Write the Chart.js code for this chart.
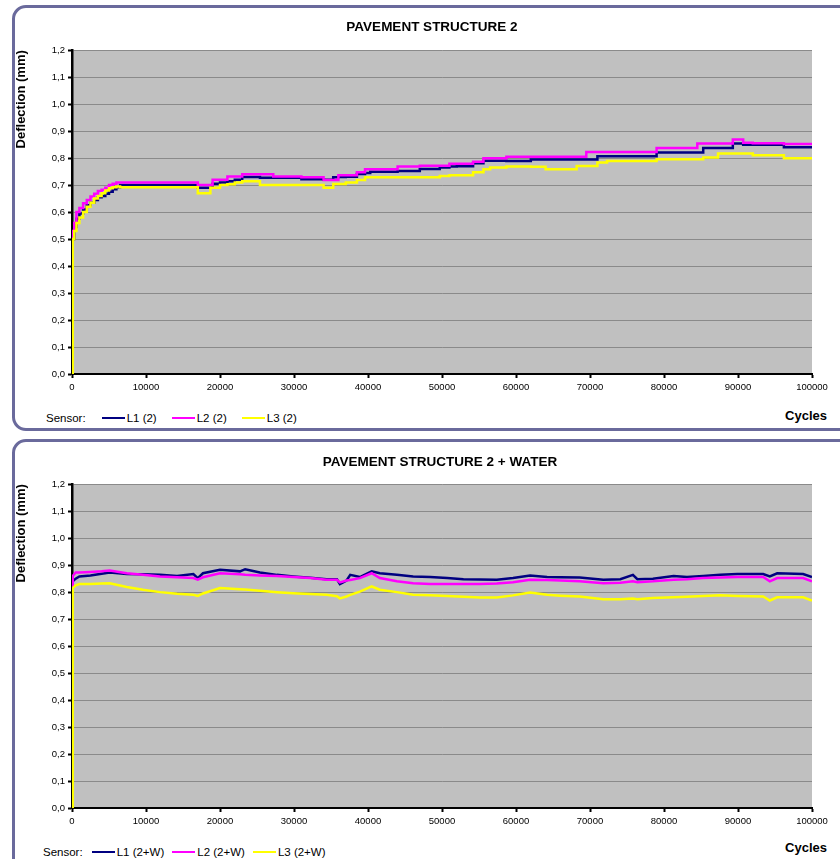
<!DOCTYPE html>
<html lang="en">
<head>
    <meta charset="UTF-8">
    <title>Pavement structure 2 - deflection</title>
    <script src="https://cdn.jsdelivr.net/npm/chart.js"></script>
    <style>
        body {
            margin: 0;
            background: #fff;
            width: 840px;
            height: 859px;
            overflow: hidden;
            position: relative;
            font-family: "Liberation Sans", Arial, sans-serif;
        }
        .box {
            position: absolute;
            left: 12px;
            width: 870px;
            box-sizing: border-box;
            border: 3px solid #6a6a9c;
            border-radius: 14px;
        }
        .chart-wrap {
            position: absolute;
            left: 0;
        }
        .legend {
            position: absolute;
            display: flex;
            align-items: center;
            font-size: 11.5px;
            color: #000;
            white-space: nowrap;
        }
        .legend .swatch {
            display: inline-block;
            width: 23px;
            height: 2px;
            margin-right: 2px;
        }
        .cycles {
            position: absolute;
            right: 13px;
            font-size: 13px;
            font-weight: bold;
            line-height: 16px;
        }
    </style>
</head>
<body>

<div class="box" style="top:5px;height:426px"></div>
<div class="box" style="top:439px;height:440px"></div>

<!-- Pavement structure 2 -->
<div class="chart-wrap" style="top:8px;">
    <canvas id="chartDry" width="864" height="396"></canvas>
</div>
<div class="legend" style="top:412px;left:46px;">
    <span style="margin-right:16px">Sensor:</span>
    <span class="swatch" style="background:#000080"></span><span style="margin-right:15px">L1 (2)</span>
    <span class="swatch" style="background:#ff00ff"></span><span style="margin-right:15px">L2 (2)</span>
    <span class="swatch" style="background:#ffff00"></span><span>L3 (2)</span>
</div>
<div class="cycles" style="top:408px;">Cycles</div>

<!-- Pavement structure 2 + water -->
<div class="chart-wrap" style="top:440px;">
    <canvas id="chartWet" width="880" height="398"></canvas>
</div>
<div class="legend" style="top:846px;left:43px;">
    <span style="margin-right:9px">Sensor:</span>
    <span class="swatch" style="background:#000080"></span><span style="margin-right:8px">L1 (2+W)</span>
    <span class="swatch" style="background:#ff00ff"></span><span style="margin-right:8px">L2 (2+W)</span>
    <span class="swatch" style="background:#ffff00"></span><span>L3 (2+W)</span>
</div>
<div class="cycles" style="top:840px;">Cycles</div>

<script>
    // y ticks (mm)
    const yTicks = [0, 0.1, 0.2, 0.3, 0.4, 0.5, 0.6, 0.7, 0.8, 0.9, 1.0, 1.1, 1.2];

    // structure 2 : values hold until the next cycle count (stepped)
    const dryCycles = [0, 100, 300, 600, 1000, 1500, 2000, 2500, 3000, 3500, 4000, 4500, 5000, 5500, 6000, 6500,
        17000, 18700, 19000, 20000, 21000, 22000, 23000, 25400, 27200, 31000, 34000, 35300, 36000, 37000,
        38500, 39600, 40300, 44000, 47000, 49700, 51000, 52000, 54200, 55600, 56500, 58700, 62000, 64000,
        68200, 69500, 71000, 72300, 76000, 79000, 84500, 85300, 87300, 89300, 90700, 92000, 96200, 100000];
    const dryL1 = [0, 0.50, 0.545, 0.575, 0.595, 0.61, 0.625, 0.635, 0.645, 0.655, 0.66, 0.668, 0.675, 0.685, 0.692, 0.70,
        0.69, 0.69, 0.705, 0.71, 0.714, 0.72, 0.73, 0.727, 0.727, 0.722, 0.72, 0.729, 0.73, 0.731,
        0.741, 0.745, 0.75, 0.752, 0.76, 0.765, 0.769, 0.77, 0.781, 0.79, 0.79, 0.789, 0.795, 0.795,
        0.795, 0.795, 0.807, 0.807, 0.807, 0.821, 0.821, 0.838, 0.838, 0.854, 0.85, 0.85, 0.84, 0.84];
    const dryL2 = [0, 0.53, 0.56, 0.60, 0.615, 0.633, 0.645, 0.658, 0.668, 0.678, 0.683, 0.69, 0.70, 0.705, 0.71, 0.71,
        0.70, 0.70, 0.72, 0.72, 0.732, 0.732, 0.74, 0.74, 0.732, 0.729, 0.719, 0.719, 0.737, 0.737,
        0.748, 0.759, 0.759, 0.769, 0.772, 0.772, 0.779, 0.779, 0.787, 0.80, 0.80, 0.805, 0.805, 0.805,
        0.805, 0.823, 0.823, 0.823, 0.823, 0.838, 0.854, 0.854, 0.854, 0.869, 0.857, 0.855, 0.852, 0.852];
    const dryL3 = [0, 0.50, 0.53, 0.56, 0.58, 0.60, 0.62, 0.635, 0.65, 0.66, 0.67, 0.68, 0.688, 0.692, 0.695, 0.692,
        0.67, 0.69, 0.69, 0.70, 0.703, 0.71, 0.714, 0.70, 0.70, 0.70, 0.69, 0.704, 0.704, 0.71,
        0.719, 0.729, 0.729, 0.729, 0.729, 0.734, 0.737, 0.737, 0.748, 0.759, 0.765, 0.769, 0.768, 0.759,
        0.771, 0.771, 0.784, 0.789, 0.789, 0.796, 0.796, 0.802, 0.817, 0.817, 0.817, 0.811, 0.80, 0.80];

    // structure 2 + water
    const wetCycles = [0, 100, 500, 1000, 2500, 4000, 5100, 7400, 9600, 11900, 14200, 16400, 17000, 17700, 20000,
        22700, 23400, 25400, 27700, 29900, 32200, 34400, 35800, 36200, 37100, 37600, 38900, 40500, 41600,
        43900, 46100, 48400, 50700, 52900, 55100, 57400, 59600, 61900, 64200, 66000, 68600, 71800, 74100,
        75800, 76400, 78500, 81300, 83100, 85300, 87600, 89900, 93400, 94300, 95300, 98800, 100000];
    const wetL1 = [0, 0.84, 0.85, 0.858, 0.862, 0.868, 0.873, 0.867, 0.866, 0.864, 0.86, 0.867, 0.852, 0.87, 0.883,
        0.877, 0.885, 0.873, 0.864, 0.858, 0.853, 0.848, 0.848, 0.83, 0.843, 0.864, 0.856, 0.877, 0.87,
        0.864, 0.858, 0.856, 0.852, 0.848, 0.847, 0.846, 0.852, 0.862, 0.856, 0.855, 0.854, 0.846, 0.848,
        0.864, 0.848, 0.85, 0.86, 0.856, 0.86, 0.864, 0.867, 0.867, 0.858, 0.87, 0.867, 0.856];
    const wetL2 = [0, 0.86, 0.873, 0.873, 0.875, 0.877, 0.88, 0.87, 0.864, 0.858, 0.855, 0.852, 0.846, 0.855, 0.87,
        0.866, 0.864, 0.862, 0.86, 0.856, 0.852, 0.846, 0.846, 0.836, 0.843, 0.845, 0.852, 0.87, 0.852,
        0.84, 0.833, 0.83, 0.83, 0.83, 0.83, 0.832, 0.837, 0.846, 0.845, 0.843, 0.84, 0.833, 0.835,
        0.84, 0.837, 0.84, 0.846, 0.848, 0.852, 0.854, 0.856, 0.856, 0.84, 0.852, 0.852, 0.84];
    const wetL3 = [0, 0.815, 0.825, 0.83, 0.83, 0.832, 0.833, 0.819, 0.809, 0.80, 0.794, 0.79, 0.786, 0.795, 0.815,
        0.811, 0.81, 0.805, 0.80, 0.796, 0.793, 0.79, 0.785, 0.777, 0.784, 0.79, 0.802, 0.821, 0.809,
        0.80, 0.79, 0.788, 0.786, 0.783, 0.78, 0.78, 0.788, 0.799, 0.79, 0.787, 0.784, 0.774, 0.774,
        0.776, 0.774, 0.778, 0.781, 0.783, 0.786, 0.788, 0.786, 0.784, 0.769, 0.781, 0.781, 0.769];

    const sensorColors = ['#000080', '#ff00ff', '#ffff00'];
    const fontFamily = '"Liberation Sans", Arial, sans-serif';

    // grey plot area like the excel chart
    const plotBackground = {
        id: 'plotBackground',
        beforeDraw(chart) {
            const a = chart.chartArea;
            chart.ctx.save();
            chart.ctx.fillStyle = '#c0c0c0';
            chart.ctx.fillRect(a.left, a.top, a.right - a.left, a.bottom - a.top);
            chart.ctx.restore();
        }
    };

    function toPoints(xs, ys) {
        return xs.map((x, i) => ({x: x, y: ys[i]}));
    }

    function makeChart(id, title, cycles, series, labels, stepped, titlePad, rightSpace) {
        const datasets = series.map((values, i) => ({
            label: labels[i],
            data: toPoints(cycles, values),
            borderColor: sensorColors[i],
            backgroundColor: sensorColors[i],
            borderWidth: 2.5,
            pointRadius: 0,
            stepped: stepped,
            tension: 0,
            order: 3 - i // L3 drawn on top
        }));

        return new Chart(document.getElementById(id), {
            type: 'line',
            data: {datasets: datasets},
            options: {
                responsive: false,
                animation: false,
                layout: {padding: 0},
                plugins: {
                    legend: {display: false},
                    tooltip: {enabled: false},
                    title: {
                        display: true,
                        text: title,
                        color: '#000',
                        font: {family: fontFamily, size: 13.5, weight: 'bold'},
                        padding: titlePad
                    }
                },
                scales: {
                    x: {
                        type: 'linear',
                        min: 0,
                        max: 100000,
                        afterFit: s => { s.height = 30; },
                        ticks: {
                            stepSize: 10000,
                            autoSkip: false,
                            maxRotation: 0,
                            padding: 4,
                            color: '#000',
                            font: {family: fontFamily, size: 9.5},
                            callback: v => String(v)
                        },
                        grid: {drawOnChartArea: false, tickLength: 4, tickColor: '#000', tickWidth: 2},
                        border: {color: '#000', width: 2}
                    },
                    y: {
                        min: 0,
                        max: 1.2,
                        afterFit: s => { s.width = 72; },
                        afterBuildTicks: s => { s.ticks = yTicks.map(v => ({value: v})); },
                        ticks: {
                            padding: 3,
                            color: '#000',
                            font: {family: fontFamily, size: 9.5},
                            callback: v => v.toFixed(1).replace('.', ',')
                        },
                        grid: {color: '#8a8a8a', lineWidth: 1, tickLength: 4, tickColor: '#000', tickWidth: 2},
                        border: {color: '#000', width: 2.5},
                        title: {
                            display: true,
                            text: 'Deflection (mm)',
                            align: 'end',
                            color: '#000',
                            font: {family: fontFamily, size: 13, weight: 'bold'},
                            padding: {top: 14, bottom: 0}
                        }
                    },
                    // empty right axis, only keeps room so the plot ends where the excel one did
                    spacer: {
                        position: 'right',
                        display: true,
                        afterFit: s => { s.width = rightSpace; },
                        ticks: {display: false},
                        grid: {display: false, drawTicks: false},
                        border: {display: false}
                    }
                }
            },
            plugins: [plotBackground]
        });
    }

    makeChart('chartDry', 'PAVEMENT STRUCTURE 2', dryCycles, [dryL1, dryL2, dryL3],
        ['L1 (2)', 'L2 (2)', 'L3 (2)'], true, {top: 11, bottom: 15}, 52);
    makeChart('chartWet', 'PAVEMENT STRUCTURE 2 + WATER', wetCycles, [wetL1, wetL2, wetL3],
        ['L1 (2+W)', 'L2 (2+W)', 'L3 (2+W)'], false, {top: 14, bottom: 14}, 68);
</script>

</body>
</html>
